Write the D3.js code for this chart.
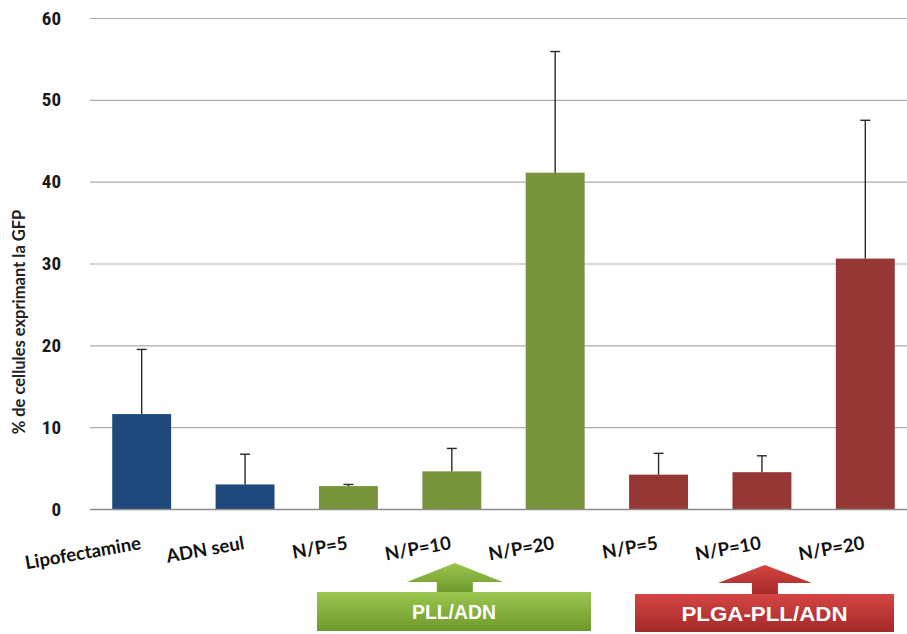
<!DOCTYPE html>
<html>
<head>
<meta charset="utf-8">
<script src="https://cdn.jsdelivr.net/npm/d3@7/dist/d3.min.js"></script>
<style>
  html, body { margin: 0; padding: 0; background: #fff; }
  svg { display: block; }
</style>
</head>
<body>
<svg id="chart" width="907" height="634"></svg>
<script>
// ---- data ----
const categories = ["Lipofectamine", "ADN seul", "N/P=5", "N/P=10", "N/P=20", "N/P=5 ", "N/P=10 ", "N/P=20 "];
const labels = ["Lipofectamine", "ADN seul", "N/P=5", "N/P=10", "N/P=20", "N/P=5", "N/P=10", "N/P=20"];
const values = [11.6, 3.0, 2.8, 4.6, 41.1, 4.2, 4.5, 30.6];
const errors = [7.9, 3.7, 0.2, 2.8, 14.8, 2.6, 2.0, 16.9];
const groups = ["control", "control", "pll", "pll", "pll", "plga", "plga", "plga"];
const yTicks = [0, 10, 20, 30, 40, 50, 60];
const groupLabels = [
  { name: "PLL/ADN", group: "pll" },
  { name: "PLGA-PLL/ADN", group: "plga" }
];
const yTitle = "% de cellules exprimant la GFP";

// ---- styles ----
const colors = { control: "#1F497D", pll: "#77933C", plga: "#953735" };
const svg = d3.select("#chart");
const plotLeft = 90, plotRight = 917, plotTop = 18, plotBottom = 509;

const x = d3.scaleBand().domain(categories).range([plotLeft, plotRight]).paddingInner(0.43).paddingOuter(0.215);
const y = d3.scaleLinear().domain([0, 60]).range([plotBottom, plotTop]);

const defs = svg.append("defs");
const gG = defs.append("linearGradient").attr("id", "gGreen").attr("x1", 0).attr("y1", 0).attr("x2", 0).attr("y2", 1);
gG.append("stop").attr("offset", "0%").attr("stop-color", "#9cc64f");
gG.append("stop").attr("offset", "100%").attr("stop-color", "#6e9a2c");
const gR = defs.append("linearGradient").attr("id", "gRed").attr("x1", 0).attr("y1", 0).attr("x2", 0).attr("y2", 1);
gR.append("stop").attr("offset", "0%").attr("stop-color", "#d54543");
gR.append("stop").attr("offset", "100%").attr("stop-color", "#a32a28");
const fills = { pll: "url(#gGreen)", plga: "url(#gRed)" };

// gridlines
svg.append("g").selectAll("line").data(yTicks.filter(d => d > 0)).join("line")
  .attr("x1", plotLeft).attr("x2", 907)
  .attr("y1", d => y(d) + 0.5).attr("y2", d => y(d) + 0.5)
  .attr("stroke", "#acacac").attr("stroke-width", 1.2);

// y axis labels
const yAxis = d3.axisLeft(y).tickValues(yTicks).tickSize(0).tickPadding(0).tickFormat(d3.format("d"));
const yg = svg.append("g").attr("transform", `translate(61,0)`).call(yAxis);
yg.select(".domain").remove();
yg.selectAll("text")
  .attr("font-family", "'Liberation Sans Narrow', 'Roboto Condensed', Lato, sans-serif")
  .attr("font-weight", "bold").attr("font-size", 19).attr("fill", "#1a1a1a");

// bars
svg.append("g").selectAll("rect").data(categories).join("rect")
  .attr("x", d => x(d)).attr("width", x.bandwidth())
  .attr("y", (d, i) => y(values[i]))
  .attr("height", (d, i) => y(0) - y(values[i]))
  .attr("fill", (d, i) => colors[groups[i]]);

// error bars
const eb = svg.append("g").attr("stroke", "#2a2a2a").attr("stroke-width", 1.4);
categories.forEach((c, i) => {
  const cx = x(c) + x.bandwidth() / 2;
  eb.append("line").attr("x1", cx).attr("x2", cx).attr("y1", y(values[i])).attr("y2", y(values[i] + errors[i]));
  eb.append("line").attr("x1", cx - 5).attr("x2", cx + 5).attr("y1", y(values[i] + errors[i])).attr("y2", y(values[i] + errors[i]));
});

// baseline
svg.append("line").attr("x1", plotLeft).attr("x2", 907).attr("y1", y(0) + 0.5).attr("y2", y(0) + 0.5)
  .attr("stroke", "#8c8c8c").attr("stroke-width", 1.5);

// x labels
svg.append("g").selectAll("text").data(categories).join("text")
  .attr("transform", d => `translate(${x(d) + x.bandwidth() / 2},549) rotate(-10)`)
  .attr("text-anchor", "end")
  .attr("font-family", "Lato, 'Open Sans', sans-serif").attr("font-weight", "bold").attr("font-size", 18.5)
  .attr("fill", "#111")
  .text((d, i) => labels[i]);

// y title
svg.append("text")
  .attr("transform", `translate(25,322) rotate(-90)`)
  .attr("text-anchor", "middle")
  .attr("font-family", "Lato, 'Open Sans', sans-serif").attr("font-weight", "bold").attr("font-size", 16.5)
  .attr("fill", "#222")
  .text(yTitle);

// group annotations (arrow + box)
const boxSpec = {
  pll: { left: 317, right: 591, top: 592, bottom: 631, headHalf: 48, shaftHalf: 18, tip: 563, base: 582, textW: 84 },
  plga: { left: 635, right: 894, top: 594, bottom: 632, headHalf: 47, shaftHalf: 13, tip: 565, base: 583, textW: 166 }
};
groupLabels.forEach(g => {
  const s = boxSpec[g.group];
  const idx = groups.indexOf(g.group) + 1; // middle category of group
  const cx = x(categories[idx]) + x.bandwidth() / 2 + 3;
  const gg = svg.append("g");
  gg.append("path")
    .attr("d", `M${cx},${s.tip} L${cx + s.headHalf},${s.base} L${cx + s.shaftHalf},${s.base} L${cx + s.shaftHalf},${s.top} L${cx - s.shaftHalf},${s.top} L${cx - s.shaftHalf},${s.base} L${cx - s.headHalf},${s.base} Z`)
    .attr("fill", fills[g.group]);
  gg.append("rect").attr("x", s.left).attr("y", s.top).attr("width", s.right - s.left).attr("height", s.bottom - s.top)
    .attr("fill", fills[g.group]);
  gg.append("text").attr("x", (s.left + s.right) / 2).attr("y", (s.top + s.bottom) / 2 + 7.5)
    .attr("text-anchor", "middle")
    .attr("font-family", "'Liberation Sans', Arial, sans-serif").attr("font-weight", "bold").attr("font-size", 21)
    .attr("textLength", s.textW).attr("lengthAdjust", "spacingAndGlyphs")
    .attr("fill", "#fff").text(g.name);
});
</script>
</body>
</html>
